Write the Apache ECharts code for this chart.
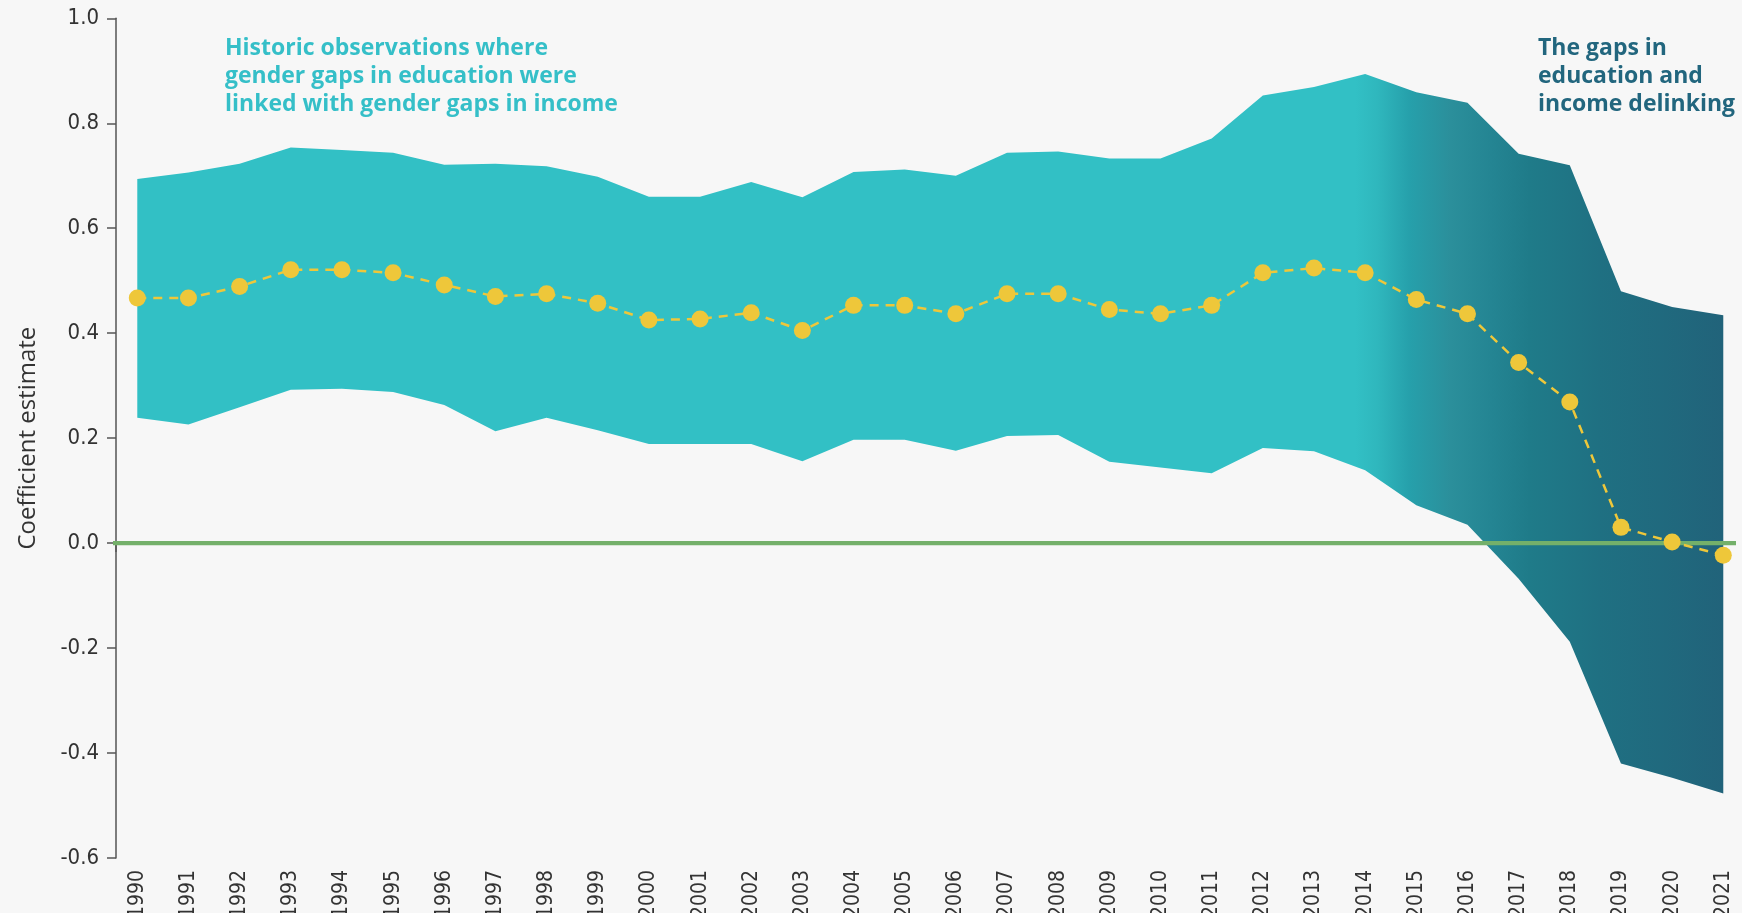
<!DOCTYPE html>
<html>
<head>
<meta charset="utf-8">
<script src="https://cdn.jsdelivr.net/npm/echarts@6/dist/echarts.min.js"></script>
<style>
  html, body { margin: 0; padding: 0; background: #f7f7f7; }
  #chart { width: 1742px; height: 913px; }
</style>
</head>
<body>
<div id="chart"></div>
<script>
// ---- data ----
const years = [1990,1991,1992,1993,1994,1995,1996,1997,1998,1999,2000,2001,2002,2003,2004,2005,2006,2007,2008,2009,2010,2011,2012,2013,2014,2015,2016,2017,2018,2019,2020,2021];
const estimate = [0.467,0.467,0.489,0.521,0.521,0.515,0.492,0.470,0.475,0.457,0.425,0.427,
                  0.439,0.405,0.453,0.453,0.437,0.475,0.475,0.445,0.437,0.453,
                  0.515,0.524,0.515,0.464,0.437,0.344,0.269,0.030,0.002,-0.023];
const upper = [0.694,0.706,0.723,0.754,0.749,0.744,0.721,0.723,0.718,0.698,0.660,0.660,
               0.688,0.659,0.707,0.712,0.700,0.744,0.746,0.733,0.733,0.771,
               0.853,0.869,0.894,0.859,0.839,0.742,0.720,0.480,0.450,0.434];
const lower = [0.239,0.226,0.259,0.292,0.294,0.288,0.263,0.213,0.239,0.215,0.189,0.189,
               0.189,0.156,0.197,0.197,0.176,0.204,0.206,0.155,0.144,0.133,
               0.181,0.175,0.139,0.072,0.035,-0.068,-0.188,-0.420,-0.447,-0.477];
const yTickMin = -0.6, yTickMax = 1.0, yTickStep = 0.2;
const yAxisTitle = 'Coefficient estimate';
const noteHistoric = 'Historic observations where\ngender gaps in education were\nlinked with gender gaps in income';
const noteDelinking = 'The gaps in\neducation and\nincome delinking';
const zeroLineExtent = [1989.40, 2021.37];

// ---- chart ----
const chart = echarts.init(document.getElementById('chart'), null, { renderer: 'canvas' });
const narrow = "'Liberation Sans Narrow', 'DejaVu Sans Condensed', 'Roboto', sans-serif";
const sans = "'Open Sans', Lato, sans-serif";

const bandGradient = {
  type: 'linear', x: 0, y: 0, x2: 1, y2: 0,
  colorStops: [
    { offset: 0, color: '#32c0c5' },
    { offset: 0.768, color: '#32c0c5' },
    { offset: 0.782, color: '#2fb7bd' },
    { offset: 0.802, color: '#26a0ab' },
    { offset: 0.828, color: '#2b8f9b' },
    { offset: 0.853, color: '#248593' },
    { offset: 0.878, color: '#1f7b89' },
    { offset: 0.922, color: '#1f7082' },
    { offset: 1, color: '#21637a' }
  ]
};

const option = {
  backgroundColor: '#f7f7f7',
  animation: false,
  grid: { left: 116, top: 18.3, width: 1617, height: 839.7, containLabel: false, outerBoundsMode: 'none' },
  xAxis: {
    type: 'value',
    min: 1989.584, max: 2021.19,
    splitLine: { show: false },
    axisLine: { show: true, lineStyle: { color: '#555', width: 1.5 } },
    axisTick: { show: true, length: 9, customValues: [1989.584], lineStyle: { color: '#555', width: 1.5 } },
    axisLabel: {
      customValues: years, rotate: 90, margin: 12,
      fontFamily: narrow, fontSize: 21, color: '#333',
      formatter: v => String(Math.round(v))
    }
  },
  yAxis: {
    type: 'value',
    min: yTickMin, max: yTickMax, interval: yTickStep,
    name: yAxisTitle, nameLocation: 'middle', nameGap: 76,
    nameTextStyle: { fontFamily: sans, fontSize: 24, fontWeight: 500, color: '#333' },
    splitLine: { show: false },
    axisLine: { show: true, lineStyle: { color: '#555', width: 1.5 } },
    axisTick: { show: true, length: 9, lineStyle: { color: '#555', width: 1.5 } },
    axisLabel: {
      margin: 17, fontFamily: narrow, fontSize: 22, color: '#333',
      formatter: v => v.toFixed(1)
    }
  },
  series: [
    {
      name: 'band', type: 'custom',
      data: years.map((y, i) => [y, lower[i], upper[i]]),
      encode: { x: 0, y: [1, 2] },
      silent: true, z: 1,
      renderItem: (params, api) => {
        if (params.dataIndex !== 0) return null;
        const top = years.map((y, i) => api.coord([y, upper[i]]));
        const bottom = years.map((y, i) => api.coord([y, lower[i]])).reverse();
        return {
          type: 'polygon',
          shape: { points: top.concat(bottom) },
          style: { fill: bandGradient, stroke: null }
        };
      }
    },
    {
      name: 'zero', type: 'line', clip: false,
      data: zeroLineExtent.map(x => [x, 0]),
      symbol: 'none', lineStyle: { color: '#74b06a', width: 4.3 }, silent: true, z: 3
    },
    {
      name: 'estimate', type: 'line',
      data: years.map((y, i) => [y, estimate[i]]),
      symbol: 'circle', symbolSize: 17,
      itemStyle: { color: '#eec73a' },
      lineStyle: { color: '#eec73a', width: 2.5, type: [9, 7] },
      z: 5
    }
  ],
  graphic: [
    {
      type: 'text', left: 225, top: 34, z: 10,
      style: { text: noteHistoric, font: 'bold 23px ' + sans, fill: '#35bfc8', lineHeight: 28 }
    },
    {
      type: 'text', left: 1538, top: 34, z: 10,
      style: { text: noteDelinking, font: 'bold 23px ' + sans, fill: '#22667e', lineHeight: 28 }
    }
  ]
};
chart.setOption(option);
</script>
</body>
</html>
